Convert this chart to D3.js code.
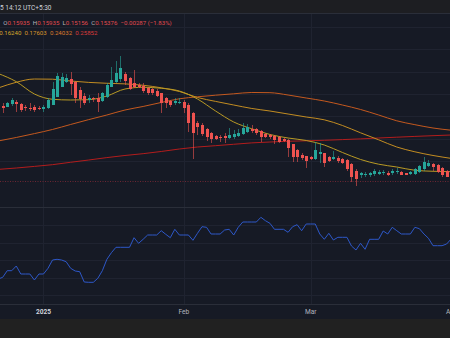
<!DOCTYPE html>
<html><head><meta charset="utf-8">
<script src="https://cdn.jsdelivr.net/npm/d3@7"></script>
<style>
html,body{margin:0;padding:0;background:#161a25;overflow:hidden;}
svg{display:block;}
text{font-family:Roboto,"Liberation Sans",sans-serif;}
</style></head><body><svg id="c" width="450" height="338"></svg>
<script>
// ---- data (daily candles starting 2024-12-23) ----
const startDate = [2024, 11, 23];
const opens = [0.3198,0.3173,0.3233,0.3298,0.3233,0.3173,0.3148,0.3158,0.314,0.3115,0.3133,0.3215,0.3423,0.3673,0.3798,0.3858,0.379,0.359,0.344,0.334,0.339,0.3383,0.3323,0.3423,0.3673,0.3798,0.3858,0.399,0.3898,0.3758,0.3715,0.369,0.3633,0.3608,0.3573,0.3508,0.3383,0.3323,0.3273,0.3258,0.3298,0.3215,0.3008,0.2758,0.2708,0.2608,0.2523,0.244,0.2423,0.2433,0.2383,0.2423,0.244,0.249,0.2548,0.2623,0.2608,0.2565,0.249,0.2465,0.2448,0.2408,0.2358,0.234,0.2233,0.209,0.1965,0.194,0.1908,0.1865,0.199,0.2008,0.1908,0.1865,0.1898,0.1858,0.184,0.174,0.1573,0.1458,0.1465,0.1473,0.1483,0.149,0.1508,0.1523,0.1515,0.1533,0.154,0.1508,0.149,0.149,0.1548,0.1608,0.169,0.174,0.1708,0.1633,0.1573];
const highs = [0.3265,0.3298,0.3383,0.334,0.3258,0.3215,0.3258,0.3215,0.319,0.3215,0.3383,0.3798,0.4023,0.4023,0.399,0.4048,0.381,0.3673,0.3508,0.3465,0.3423,0.3508,0.3548,0.3758,0.4173,0.4323,0.444,0.4048,0.3923,0.409,0.3758,0.3758,0.3673,0.364,0.3608,0.3523,0.3423,0.334,0.3383,0.3383,0.334,0.3258,0.3048,0.2823,0.2758,0.2633,0.2548,0.2465,0.2465,0.2508,0.2633,0.259,0.2608,0.2773,0.274,0.2715,0.2633,0.259,0.2523,0.249,0.2465,0.244,0.2383,0.2358,0.224,0.2108,0.2008,0.195,0.194,0.2298,0.2258,0.2023,0.194,0.2073,0.194,0.1883,0.1858,0.1758,0.1608,0.1548,0.154,0.1548,0.1608,0.159,0.159,0.1558,0.1623,0.1633,0.1558,0.1523,0.1573,0.1633,0.1715,0.1908,0.184,0.1758,0.174,0.1658,0.159];
const lows = [0.3015,0.3158,0.319,0.3048,0.3048,0.3065,0.3065,0.3048,0.309,0.3048,0.3108,0.3205,0.3408,0.3658,0.3758,0.3465,0.3258,0.3133,0.3215,0.3258,0.3298,0.3048,0.3298,0.3383,0.3658,0.3758,0.3798,0.3715,0.359,0.3633,0.3633,0.3508,0.3465,0.3465,0.3423,0.3008,0.3133,0.3158,0.3215,0.3233,0.3008,0.2548,0.1858,0.2465,0.244,0.2323,0.2273,0.234,0.2298,0.2273,0.2375,0.2358,0.2408,0.2465,0.2523,0.2523,0.2465,0.2298,0.2383,0.2358,0.224,0.2273,0.2298,0.1908,0.1798,0.1798,0.184,0.1633,0.184,0.184,0.1773,0.1658,0.1798,0.184,0.1758,0.174,0.1573,0.1298,0.119,0.1383,0.1408,0.1423,0.144,0.1465,0.1473,0.144,0.1465,0.149,0.1458,0.1458,0.1465,0.1465,0.1523,0.1573,0.1658,0.1573,0.1523,0.1423,0.1408];
const closes = [0.3133,0.3273,0.334,0.324,0.309,0.3133,0.3123,0.309,0.3123,0.3173,0.334,0.3615,0.394,0.3908,0.3883,0.3733,0.3398,0.3373,0.3273,0.3383,0.3358,0.3283,0.3508,0.3715,0.384,0.4023,0.4133,0.3823,0.3608,0.3673,0.3658,0.3565,0.3508,0.3508,0.344,0.3258,0.3258,0.3215,0.3323,0.3298,0.3133,0.2773,0.2523,0.2658,0.249,0.2408,0.2358,0.2358,0.239,0.2383,0.2465,0.249,0.2523,0.2633,0.2673,0.2573,0.2523,0.2408,0.2408,0.2408,0.234,0.2298,0.2323,0.2133,0.1908,0.1908,0.1883,0.1823,0.1873,0.209,0.2048,0.1773,0.1823,0.1908,0.1823,0.1773,0.1608,0.1423,0.1365,0.1508,0.1498,0.1508,0.1565,0.1548,0.154,0.1473,0.1558,0.1573,0.1473,0.1473,0.1533,0.1608,0.169,0.1798,0.1773,0.1658,0.1548,0.1465,0.1423];

// moving averages, read every 4 days (day index from start)
const maDays = [-1,3,7,11,15,19,23,27,31,35,39,43,47,51,55,59,63,67,71,75,79,83,87,91,95,99];
const ma20  = [0.4003,0.3798,0.349,0.3358,0.334,0.3348,0.344,0.3615,0.3658,0.3633,0.3565,0.3365,0.3065,0.279,0.262,0.2478,0.239,0.2328,0.2215,0.2028,0.1853,0.1735,0.1665,0.1583,0.1558,0.1548];
const ma50  = [0.364,0.3783,0.3865,0.386,0.3815,0.378,0.3758,0.3743,0.3708,0.3645,0.3553,0.3403,0.3305,0.3215,0.3128,0.3065,0.299,0.2915,0.2845,0.2703,0.252,0.2345,0.2165,0.2045,0.1953,0.188];
const ma100 = [0.2315,0.2403,0.25,0.2603,0.2728,0.285,0.2965,0.309,0.3178,0.3278,0.337,0.342,0.346,0.3495,0.3528,0.3523,0.3465,0.339,0.3315,0.3215,0.3103,0.2965,0.282,0.2723,0.264,0.2585];
const ma200 = [0.1605,0.164,0.168,0.1723,0.1783,0.184,0.19,0.1953,0.1998,0.2053,0.2115,0.2165,0.2198,0.2233,0.2268,0.229,0.2308,0.232,0.2333,0.235,0.2368,0.239,0.241,0.243,0.2448,0.2465];

// oscillator, days -1 .. 99
const oscStartDay = -1;
const osc = [21,22.7,29.3,29.3,34,26,26,26,20,26,26,31.7,40,40.7,40,38.3,31.7,29,28.3,18,17.7,17.7,21.7,29.3,40.7,47.3,52.7,52.7,52.7,52.7,62.3,56.7,60.7,65,65,65,69.3,65.7,62.3,70.7,65,65,65,59.7,66.7,73.3,72.7,66,66,66,70,70.7,65,72.7,78,78,78,78,82.7,79.3,76.7,70.7,70.7,70.7,67.7,73.3,75.3,69.3,76,76,76,66,60.7,66.7,60,62.7,62.7,62.7,54,50,56.7,50.7,60.7,60.7,60.7,69,66,72.7,69.3,66,66,66,72.7,71.3,66,61.7,54.3,54.3,54.3,56,61];

const tickDates = [[2025,0,1],[2025,1,1],[2025,2,1],[2025,3,1]];
const tickLabels = ["2025","Feb","Mar","Apr"];
const priceGrid = [0.1808,0.2368,0.2928,0.3488,0.4048,0.4608,0.5168];
const oscGrid = [5,22.5,40,57.5,75];
const lastPriceLine = 0.1315;
const headerText = "5 14:12 UTC+5:30";
const ohlcLabels = ["O","H","L","C"];
const ohlcValues = ["0.15935","0.15935","0.15156","0.15376"];
const changeText = "\u22120.00287 (\u22121.83%)";
const maLegend = ["0.16240","0.17603","0.24032","0.25852"];

// ---- drawing ----
const W = 450, H = 338;
const svg = d3.select("#c");
const T0 = Date.UTC(startDate[0], startDate[1], startDate[2]);
const dayDate = d => new Date(T0 + d * 864e5);
const x = d3.scaleUtc().domain([dayDate(0), dayDate(98)]).range([2.7, 446.6]);
const y = d3.scaleLinear().domain([0.154, 0.454]).range([172, 52]);
const yo = d3.scaleLinear().domain([0, 100]).range([300, 200]);

const mainTop = 14, mainBot = 206.5, oscTop = 207.5, oscBot = 304;

svg.append("rect").attr("width", W).attr("height", H).attr("fill", "#161a25");
svg.append("rect").attr("width", W).attr("height", 13.5).attr("fill", "#1d1e22");
svg.append("rect").attr("y", 319).attr("width", W).attr("height", H - 319).attr("fill", "#212121");

const defs = svg.append("defs");
defs.append("clipPath").attr("id", "cm").append("rect").attr("x", 0).attr("y", mainTop).attr("width", W).attr("height", mainBot - mainTop);
defs.append("clipPath").attr("id", "co").append("rect").attr("x", 0).attr("y", oscTop).attr("width", W).attr("height", oscBot - oscTop);

const gridC = "#1f2330";
const grid = svg.append("g").attr("shape-rendering", "crispEdges");
grid.selectAll("line.h").data(priceGrid).join("line")
  .attr("x1", 0).attr("x2", W)
  .attr("y1", d => Math.round(y(d)) + 0.5).attr("y2", d => Math.round(y(d)) + 0.5)
  .attr("stroke", gridC);
grid.selectAll("line.o").data(oscGrid).join("line")
  .attr("x1", 0).attr("x2", W)
  .attr("y1", d => Math.round(yo(d)) + 0.5).attr("y2", d => Math.round(yo(d)) + 0.5)
  .attr("stroke", gridC);
const tickX = tickDates.map(t => x(new Date(Date.UTC(t[0], t[1], t[2]))));
grid.selectAll("line.v").data(tickX).join("line")
  .attr("x1", d => Math.round(d) + 0.5).attr("x2", d => Math.round(d) + 0.5)
  .attr("y1", mainTop).attr("y2", oscBot)
  .attr("stroke", gridC);
// borders
grid.append("line").attr("x1", 0).attr("x2", W).attr("y1", 13.5).attr("y2", 13.5).attr("stroke", "#2a2e39");
grid.append("line").attr("x1", 0).attr("x2", W).attr("y1", 207).attr("y2", 207).attr("stroke", "#2a2e39");
grid.append("line").attr("x1", 0).attr("x2", W).attr("y1", 304.5).attr("y2", 304.5).attr("stroke", "#2a2e39");

const main = svg.append("g").attr("clip-path", "url(#cm)");

// last price dotted line
main.append("line").attr("x1", 0).attr("x2", W)
  .attr("y1", Math.round(y(lastPriceLine)) + 0.5).attr("y2", Math.round(y(lastPriceLine)) + 0.5)
  .attr("stroke", "#6a2733").attr("stroke-dasharray", "1,1.5");

// moving averages
const maSeries = [
  {v: ma200, c: "#b31d1d"},
  {v: ma100, c: "#c4591f"},
  {v: ma50,  c: "#c38d22"},
  {v: ma20,  c: "#b99a25"}
];
const maLine = d3.line().x(d => x(dayDate(d[0]))).y(d => y(d[1])).curve(d3.curveMonotoneX);
maSeries.forEach(s => {
  main.append("path").datum(maDays.map((d, i) => [d, s.v[i]]))
    .attr("d", maLine).attr("fill", "none").attr("stroke", s.c).attr("stroke-width", 1);
});

// candles
const up = "#26a69a", dn = "#ef5350";
const candles = opens.map((o, i) => ({d: i, o, h: highs[i], l: lows[i], c: closes[i]}));
const cg = main.append("g").attr("shape-rendering", "crispEdges");
cg.selectAll("line").data(candles).join("line")
  .attr("x1", d => Math.round(x(dayDate(d.d))) + 0.5).attr("x2", d => Math.round(x(dayDate(d.d))) + 0.5)
  .attr("y1", d => y(d.h)).attr("y2", d => y(d.l))
  .attr("stroke", d => d.c >= d.o ? up : dn).attr("stroke-opacity", 0.6);
cg.selectAll("rect").data(candles).join("rect")
  .attr("x", d => Math.round(x(dayDate(d.d))) - 1)
  .attr("width", 3)
  .attr("y", d => y(Math.max(d.o, d.c)))
  .attr("height", d => Math.max(1, Math.abs(y(d.o) - y(d.c))))
  .attr("fill", d => d.c >= d.o ? up : dn);

// oscillator
const og = svg.append("g").attr("clip-path", "url(#co)");
og.append("path").datum(osc.map((v, i) => [oscStartDay + i, v]))
  .attr("d", d3.line().x(d => x(dayDate(d[0]))).y(d => yo(d[1])))
  .attr("fill", "none").attr("stroke", "#2e58c8").attr("stroke-width", 1);

// x axis labels
svg.selectAll("text.tick").data(tickLabels).join("text")
  .attr("x", (d, i) => tickX[i]).attr("y", 314.3)
  .attr("text-anchor", "middle")
  .attr("font-size", 6.6)
  .attr("font-weight", (d, i) => i === 0 ? "bold" : "normal")
  .attr("fill", (d, i) => i === 0 ? "#d1d4dc" : "#b2b5be")
  .text(d => d);

// header
svg.append("text").attr("x", 0).attr("y", 10).attr("font-size", 6.5).attr("fill", "#d1d4dc").text(headerText);

// legend row 1
const red = "#e04a4f";
const l1 = svg.append("text").attr("x", 3.3).attr("y", 25).attr("font-size", 6.1);
ohlcLabels.forEach((lab, i) => {
  l1.append("tspan").attr("fill", "#b2b5be").attr("dx", i === 0 ? 0 : 3.2).text(lab);
  l1.append("tspan").attr("fill", red).text(ohlcValues[i]);
});
l1.append("tspan").attr("fill", red).attr("dx", 3.2).text(changeText);

// legend row 2
const maCols = ["#d4a72c", "#d9952a", "#dd7a2c", "#d93b3b"];
const l2 = svg.append("text").attr("x", -0.8).attr("y", 34.6).attr("font-size", 6.1);
maLegend.forEach((v, i) => {
  l2.append("tspan").attr("fill", maCols[i]).attr("dx", i === 0 ? 0 : 3.2).text(v);
});
</script></body></html>
